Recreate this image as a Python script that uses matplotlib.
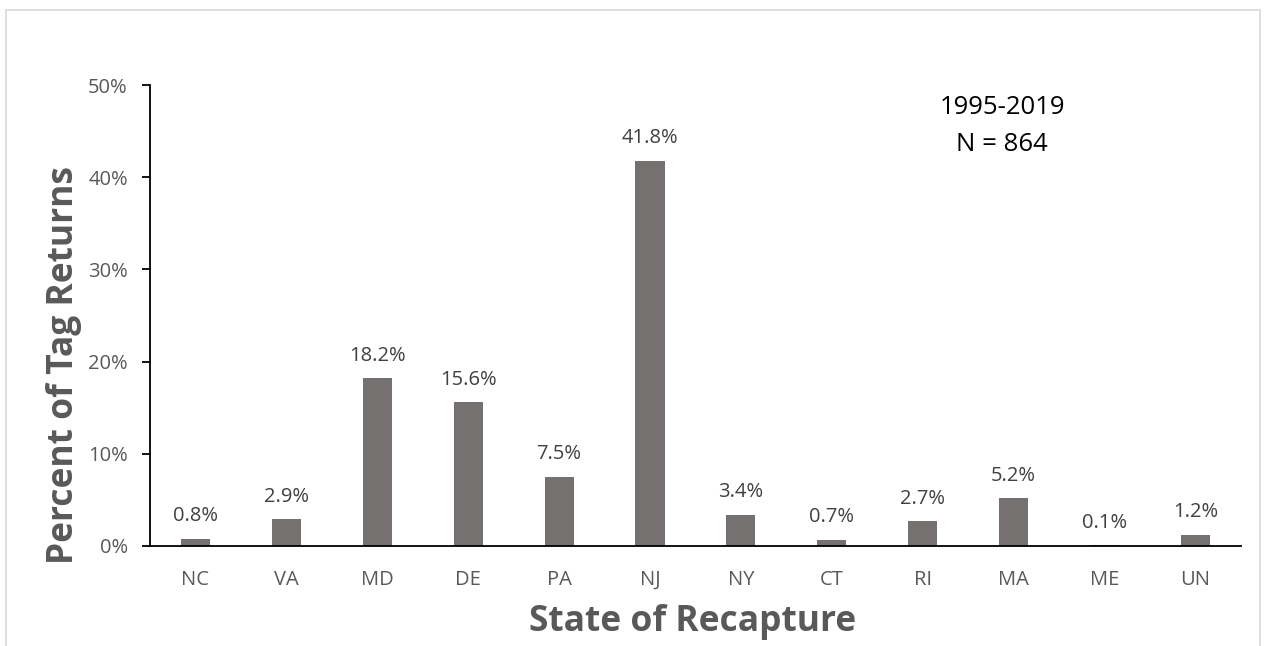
import numpy as np
from matplotlib import pyplot as plt
from matplotlib.patches import Rectangle

# tag returns by state of recapture, 1995-2019
states = ['NC', 'VA', 'MD', 'DE', 'PA', 'NJ', 'NY', 'CT', 'RI', 'MA', 'ME', 'UN']
percent = [0.8, 2.9, 18.2, 15.6, 7.5, 41.8, 3.4, 0.7, 2.7, 5.2, 0.1, 1.2]
y_ticks = [0, 10, 20, 30, 40, 50]

plt.rcParams['font.family'] = ['Open Sans', 'DejaVu Sans']

fig = plt.figure(figsize=(12.66, 6.46), dpi=100)
ax = fig.add_axes([0.1185, 0.1548, 0.8617, 0.7136])

# light frame around the chart area
fig.patches.append(Rectangle((6 / 1266, -0.05), 1254 / 1266, 1.05 - 10 / 646,
                             transform=fig.transFigure, fill=False,
                             edgecolor='#d9d9d9', linewidth=1.2))

x = np.arange(len(states))
ax.bar(x, percent, width=0.32, color='#767171')

for xi, p in zip(x, percent):
    ax.annotate('%.1f%%' % p, (xi, p), xytext=(0, 9), textcoords='offset points',
                ha='center', va='bottom', fontsize=14.5, color='#404040')

ax.set_xlim(-0.5, len(states) - 0.5)
ax.set_ylim(0, 50)
ax.set_xticks(x)
ax.set_xticklabels(states)
ax.set_yticks(y_ticks)
ax.set_yticklabels(['%d%%' % t for t in y_ticks])
ax.tick_params(axis='x', length=0, pad=17, labelsize=14.5, labelcolor='#595959')
ax.tick_params(axis='y', length=6, width=1.3, pad=10, labelsize=14.5, labelcolor='#595959')

for side in ['top', 'right']:
    ax.spines[side].set_visible(False)
ax.spines['left'].set_linewidth(1.3)
ax.spines['bottom'].set_linewidth(1.3)

ax.set_xlabel('State of Recapture', fontsize=25.5, fontweight='bold', color='#595959', va='center')
ax.set_ylabel('Percent of Tag Returns', fontsize=25.5, fontweight='bold', color='#595959', va='center')
ax.xaxis.set_label_coords(0.497, -0.165)
ax.yaxis.set_label_coords(-0.079, 0.393)

ax.text(0.781, 0.978, '1995-2019\nN = 864', transform=ax.transAxes, ha='center', va='top',
        fontsize=18.5, color='black', linespacing=1.62)

plt.savefig('out.png')
